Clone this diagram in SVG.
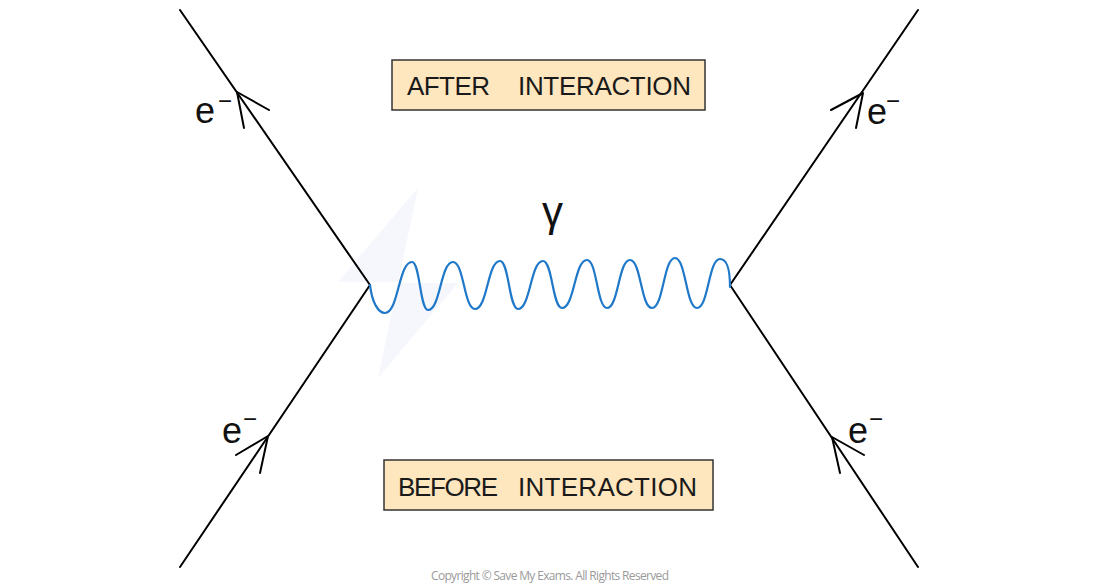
<svg xmlns="http://www.w3.org/2000/svg" width="1100" height="587" viewBox="0 0 1100 587">
  <style>
    .line { fill: none; stroke: #000; stroke-width: 2; stroke-linecap: round; stroke-linejoin: round; }
    .arrow { fill: none; stroke: #000; stroke-width: 2; stroke-linecap: round; stroke-linejoin: round; }
    .photon { fill: none; stroke: #1f78c8; stroke-width: 2.2; stroke-linecap: round; }
    .box { fill: #fee6be; stroke: #333; stroke-width: 1.5; }
    .boxtext { font-family: "Liberation Sans", Arial, sans-serif; font-size: 26px; fill: #1a1a1a; }
    .lbl { font-family: "Liberation Sans", Arial, sans-serif; font-size: 36px; fill: #111; }
    .sup { font-family: "Liberation Sans", Arial, sans-serif; font-size: 24px; fill: #111; }
    .copy { font-family: "Open Sans", "Liberation Sans", sans-serif; font-size: 12px; fill: #9a9a9a; }
  </style>

  <rect width="1100" height="587" fill="#ffffff"/>

  <g id="watermark">
    <polygon points="418,188 338,282 398,282 378,378 458,283 398,283" fill="#f5f7fd"/>
  </g>

  <g id="connectors">
    <line class="line" x1="180" y1="10" x2="370" y2="285"/>
    <line class="line" x1="370" y1="285" x2="180" y2="567"/>
    <line class="line" x1="918" y1="10" x2="730" y2="285"/>
    <line class="line" x1="730" y1="285" x2="918" y2="567"/>
    <polyline class="arrow" points="269,110 237,92 244,128"/>
    <polyline class="arrow" points="236,455 268,436 260,473"/>
    <polyline class="arrow" points="831,110 863,93 856,128"/>
    <polyline class="arrow" points="864,455 832,437 840,473"/>
    <path id="photon" class="photon" d="M370,285 C372,302 378,313 385,313 C398.5,313 398.5,262 412,262 C420,262 420,310 428,310 C440.5,310 440.5,262 453,262 C464,262 464,309 475,309 C487.5,309 487.5,261 500,261 C509,261 509,309 518,309 C530.5,309 530.5,261 543,261 C552.5,261 552.5,308 562,308 C574.5,308 574.5,260 587,260 C597,260 597,308 607,308 C618.5,308 618.5,260 630,260 C641,260 641,308 652,308 C663.5,308 663.5,258 675,258 C686,258 686,308 697,308 C708.5,308 708.5,259 720,259 C727,259 730,268 730,287"/>
  </g>

  <g id="label-after">
    <rect class="box" x="392" y="60" width="313" height="50"/>
    <text class="boxtext" y="94.5"><tspan x="407" textLength="83">AFTER</tspan><tspan x="518" textLength="173">INTERACTION</tspan></text>
  </g>

  <g id="label-before">
    <rect class="box" x="384" y="460" width="329" height="50"/>
    <text class="boxtext" y="496"><tspan x="398" textLength="100">BEFORE</tspan><tspan x="518" textLength="179">INTERACTION</tspan></text>
  </g>

  <g id="electron-out-left">
    <text class="lbl" x="195" y="123">e</text>
    <text class="sup" x="218" y="109">−</text>
  </g>
  <g id="electron-in-left">
    <text class="lbl" x="222" y="443">e</text>
    <text class="sup" x="243" y="427">−</text>
  </g>
  <g id="electron-out-right">
    <text class="lbl" x="867" y="124">e</text>
    <text class="sup" x="886" y="109">−</text>
  </g>
  <g id="electron-in-right">
    <text class="lbl" x="848" y="443">e</text>
    <text class="sup" x="869" y="427">−</text>
  </g>

  <g id="photon-label">
    <text class="lbl" x="542" y="226" style="font-size:42px">γ</text>
  </g>

  <text class="copy" x="550" y="580" text-anchor="middle" textLength="238">Copyright © Save My Exams. All Rights Reserved</text>
</svg>
